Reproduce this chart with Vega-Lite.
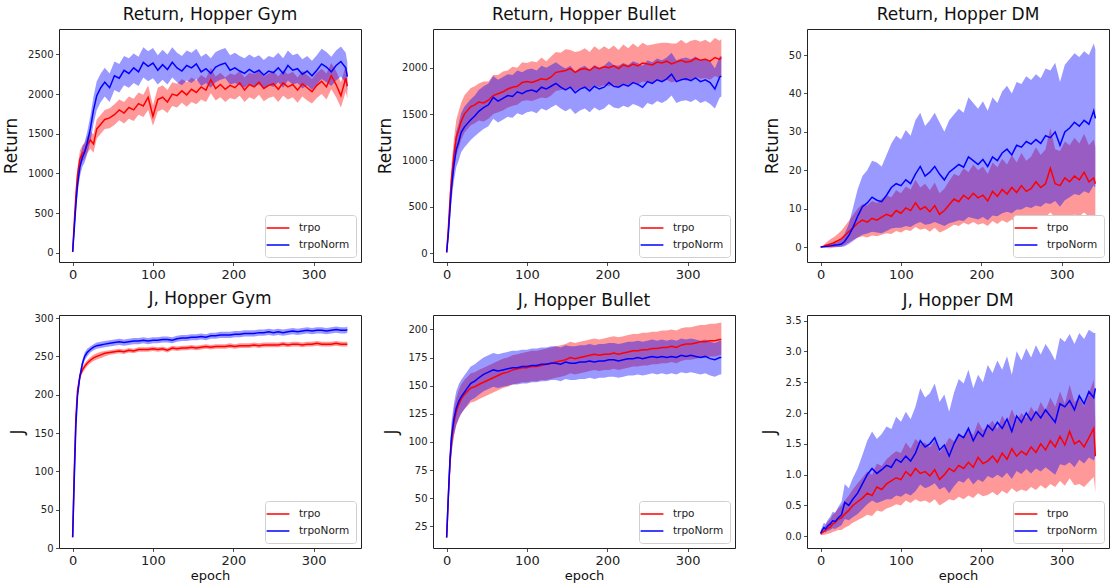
{
"$schema": "https://vega.github.io/schema/vega-lite/v6.json",
"padding": {"left": 2, "top": 5, "right": 0, "bottom": 5},
"config": {
 "font": "DejaVu Sans",
 "view": {"stroke": "#222", "strokeWidth": 1},
 "axis": {"domain": false, "grid": false, "tickColor": "#222", "tickSize": 3.5, "tickWidth": 0.8, "labelColor": "#222", "titleColor": "#111", "titleFontWeight": "normal", "labelFont": "DejaVu Sans", "titleFont": "DejaVu Sans", "labelOverlap": false, "labelFlush": false},
 "axisY": {"labelFontSize": 10, "titleFontSize": 17, "labelPadding": 2.5, "titlePadding": 7},
 "axisX": {"labelFontSize": 13, "titleFontSize": 13, "labelPadding": 3, "titlePadding": 2},
 "title": {"fontSize": 17, "fontWeight": "normal", "font": "DejaVu Sans", "color": "#111", "offset": 5, "frame": "group"},
 "legend": {"orient": "bottom-right", "title": null, "offset": 5, "padding": 6, "labelFontSize": 10.5, "labelFont": "DejaVu Sans", "labelColor": "#222", "strokeColor": "#d0d0d0", "fillColor": "#ffffff", "cornerRadius": 3, "symbolType": "M-1.9,0H1.9", "symbolSize": 144, "symbolStrokeWidth": 1.5, "symbolFillColor": "transparent", "labelOffset": 14, "rowPadding": 4}
},
"columns": 3,
"spacing": {"row": 53, "column": 72},
"bounds": "flush",
"resolve": {"scale": {"color": "independent"}, "legend": {"color": "independent"}},
"datasets": {
"rg": [
{"s":"trpo","e":0,"m":10,"l":0,"h":30},{"s":"trpo","e":2,"m":380,"l":320,"h":440},{"s":"trpo","e":4,"m":720,"l":640,"h":800},{"s":"trpo","e":6,"m":980,"l":890,"h":1070},{"s":"trpo","e":9,"m":1180,"l":1080,"h":1290},{"s":"trpo","e":12,"m":1250,"l":1150,"h":1350},{"s":"trpo","e":15,"m":1280,"l":1180,"h":1380},{"s":"trpo","e":18,"m":1360,"l":1250,"h":1460},{"s":"trpo","e":22,"m":1420,"l":1310,"h":1530},{"s":"trpo","e":26,"m":1370,"l":1260,"h":1490},{"s":"trpo","e":30,"m":1560,"l":1440,"h":1680},{"s":"trpo","e":35,"m":1620,"l":1500,"h":1740},{"s":"trpo","e":40,"m":1680,"l":1560,"h":1800},{"s":"trpo","e":46,"m":1700,"l":1570,"h":1820},{"s":"trpo","e":52,"m":1740,"l":1610,"h":1870},{"s":"trpo","e":58,"m":1800,"l":1670,"h":1930},{"s":"trpo","e":64,"m":1760,"l":1630,"h":1900},{"s":"trpo","e":70,"m":1830,"l":1690,"h":1970},{"s":"trpo","e":76,"m":1800,"l":1660,"h":1940},{"s":"trpo","e":82,"m":1880,"l":1740,"h":2020},{"s":"trpo","e":88,"m":1850,"l":1710,"h":1990},{"s":"trpo","e":94,"m":1960,"l":1800,"h":2110},{"s":"trpo","e":100,"m":1720,"l":1600,"h":1860},{"s":"trpo","e":106,"m":1930,"l":1780,"h":2080},{"s":"trpo","e":112,"m":1960,"l":1810,"h":2110},{"s":"trpo","e":118,"m":1900,"l":1760,"h":2050},{"s":"trpo","e":124,"m":2000,"l":1850,"h":2150},{"s":"trpo","e":130,"m":1980,"l":1830,"h":2130},{"s":"trpo","e":136,"m":2040,"l":1890,"h":2190},{"s":"trpo","e":142,"m":1990,"l":1840,"h":2150},{"s":"trpo","e":148,"m":2060,"l":1900,"h":2210},{"s":"trpo","e":154,"m":2020,"l":1870,"h":2170},{"s":"trpo","e":160,"m":2090,"l":1930,"h":2240},{"s":"trpo","e":166,"m":2050,"l":1900,"h":2200},{"s":"trpo","e":172,"m":2180,"l":2010,"h":2330},{"s":"trpo","e":178,"m":2070,"l":1920,"h":2220},{"s":"trpo","e":184,"m":2120,"l":1960,"h":2270},{"s":"trpo","e":190,"m":2060,"l":1900,"h":2210},{"s":"trpo","e":196,"m":2110,"l":1950,"h":2260},{"s":"trpo","e":202,"m":2080,"l":1930,"h":2240},{"s":"trpo","e":208,"m":2140,"l":1980,"h":2290},{"s":"trpo","e":214,"m":2050,"l":1900,"h":2210},{"s":"trpo","e":220,"m":2120,"l":1960,"h":2270},{"s":"trpo","e":226,"m":2090,"l":1930,"h":2250},{"s":"trpo","e":232,"m":2150,"l":1990,"h":2300},{"s":"trpo","e":238,"m":2070,"l":1910,"h":2220},{"s":"trpo","e":244,"m":2110,"l":1950,"h":2260},{"s":"trpo","e":250,"m":2130,"l":1970,"h":2290},{"s":"trpo","e":256,"m":2060,"l":1900,"h":2220},{"s":"trpo","e":262,"m":2140,"l":1980,"h":2300},{"s":"trpo","e":268,"m":2090,"l":1930,"h":2250},{"s":"trpo","e":274,"m":2120,"l":1960,"h":2280},{"s":"trpo","e":280,"m":2050,"l":1890,"h":2210},{"s":"trpo","e":286,"m":2130,"l":1970,"h":2290},{"s":"trpo","e":292,"m":2080,"l":1920,"h":2240},{"s":"trpo","e":298,"m":2030,"l":1880,"h":2190},{"s":"trpo","e":304,"m":2110,"l":1950,"h":2270},{"s":"trpo","e":310,"m":2160,"l":2000,"h":2320},{"s":"trpo","e":316,"m":2090,"l":1930,"h":2260},{"s":"trpo","e":322,"m":2230,"l":2060,"h":2390},{"s":"trpo","e":328,"m":2120,"l":1960,"h":2290},{"s":"trpo","e":334,"m":1980,"l":1830,"h":2150},{"s":"trpo","e":340,"m":2200,"l":2030,"h":2360},{"s":"trpo","e":342,"m":2100,"l":1940,"h":2260},
{"s":"trpoNorm","e":0,"m":10,"l":0,"h":30},{"s":"trpoNorm","e":2,"m":300,"l":230,"h":370},{"s":"trpoNorm","e":4,"m":600,"l":500,"h":700},{"s":"trpoNorm","e":6,"m":850,"l":740,"h":960},{"s":"trpoNorm","e":9,"m":1080,"l":960,"h":1200},{"s":"trpoNorm","e":12,"m":1200,"l":1080,"h":1330},{"s":"trpoNorm","e":15,"m":1270,"l":1140,"h":1400},{"s":"trpoNorm","e":18,"m":1380,"l":1240,"h":1520},{"s":"trpoNorm","e":22,"m":1560,"l":1400,"h":1720},{"s":"trpoNorm","e":26,"m":1800,"l":1620,"h":1970},{"s":"trpoNorm","e":30,"m":1980,"l":1800,"h":2160},{"s":"trpoNorm","e":35,"m":2080,"l":1900,"h":2260},{"s":"trpoNorm","e":40,"m":2150,"l":1970,"h":2330},{"s":"trpoNorm","e":46,"m":2080,"l":1900,"h":2260},{"s":"trpoNorm","e":52,"m":2230,"l":2050,"h":2410},{"s":"trpoNorm","e":58,"m":2200,"l":2020,"h":2380},{"s":"trpoNorm","e":64,"m":2300,"l":2110,"h":2480},{"s":"trpoNorm","e":70,"m":2260,"l":2080,"h":2450},{"s":"trpoNorm","e":76,"m":2330,"l":2140,"h":2510},{"s":"trpoNorm","e":82,"m":2280,"l":2100,"h":2470},{"s":"trpoNorm","e":88,"m":2400,"l":2210,"h":2590},{"s":"trpoNorm","e":94,"m":2350,"l":2160,"h":2540},{"s":"trpoNorm","e":100,"m":2390,"l":2200,"h":2580},{"s":"trpoNorm","e":106,"m":2300,"l":2120,"h":2490},{"s":"trpoNorm","e":112,"m":2370,"l":2180,"h":2560},{"s":"trpoNorm","e":118,"m":2310,"l":2120,"h":2500},{"s":"trpoNorm","e":124,"m":2400,"l":2210,"h":2590},{"s":"trpoNorm","e":130,"m":2330,"l":2150,"h":2520},{"s":"trpoNorm","e":136,"m":2290,"l":2110,"h":2480},{"s":"trpoNorm","e":142,"m":2360,"l":2170,"h":2550},{"s":"trpoNorm","e":148,"m":2330,"l":2140,"h":2520},{"s":"trpoNorm","e":154,"m":2380,"l":2190,"h":2570},{"s":"trpoNorm","e":160,"m":2280,"l":2100,"h":2470},{"s":"trpoNorm","e":166,"m":2320,"l":2140,"h":2510},{"s":"trpoNorm","e":172,"m":2260,"l":2080,"h":2450},{"s":"trpoNorm","e":178,"m":2340,"l":2150,"h":2530},{"s":"trpoNorm","e":184,"m":2370,"l":2180,"h":2560},{"s":"trpoNorm","e":190,"m":2390,"l":2200,"h":2580},{"s":"trpoNorm","e":196,"m":2300,"l":2120,"h":2490},{"s":"trpoNorm","e":202,"m":2330,"l":2140,"h":2520},{"s":"trpoNorm","e":208,"m":2290,"l":2110,"h":2480},{"s":"trpoNorm","e":214,"m":2260,"l":2080,"h":2450},{"s":"trpoNorm","e":220,"m":2310,"l":2130,"h":2500},{"s":"trpoNorm","e":226,"m":2270,"l":2090,"h":2460},{"s":"trpoNorm","e":232,"m":2300,"l":2120,"h":2490},{"s":"trpoNorm","e":238,"m":2240,"l":2060,"h":2430},{"s":"trpoNorm","e":244,"m":2290,"l":2110,"h":2480},{"s":"trpoNorm","e":250,"m":2270,"l":2090,"h":2460},{"s":"trpoNorm","e":256,"m":2330,"l":2150,"h":2520},{"s":"trpoNorm","e":262,"m":2260,"l":2080,"h":2450},{"s":"trpoNorm","e":268,"m":2360,"l":2170,"h":2550},{"s":"trpoNorm","e":274,"m":2300,"l":2120,"h":2490},{"s":"trpoNorm","e":280,"m":2320,"l":2140,"h":2510},{"s":"trpoNorm","e":286,"m":2250,"l":2070,"h":2440},{"s":"trpoNorm","e":292,"m":2290,"l":2110,"h":2480},{"s":"trpoNorm","e":298,"m":2230,"l":2050,"h":2420},{"s":"trpoNorm","e":304,"m":2300,"l":2120,"h":2490},{"s":"trpoNorm","e":310,"m":2380,"l":2190,"h":2570},{"s":"trpoNorm","e":316,"m":2340,"l":2150,"h":2530},{"s":"trpoNorm","e":322,"m":2280,"l":2100,"h":2470},{"s":"trpoNorm","e":328,"m":2360,"l":2170,"h":2550},{"s":"trpoNorm","e":334,"m":2410,"l":2220,"h":2600},{"s":"trpoNorm","e":340,"m":2330,"l":2140,"h":2520},{"s":"trpoNorm","e":342,"m":2220,"l":2040,"h":2400}
],
"rb": [
{"s":"trpo","e":0,"m":10,"l":0,"h":20},{"s":"trpo","e":2,"m":250,"l":170,"h":330},{"s":"trpo","e":4,"m":550,"l":420,"h":680},{"s":"trpo","e":6,"m":800,"l":640,"h":960},{"s":"trpo","e":9,"m":1050,"l":870,"h":1230},{"s":"trpo","e":12,"m":1250,"l":1060,"h":1440},{"s":"trpo","e":15,"m":1330,"l":1130,"h":1530},{"s":"trpo","e":18,"m":1420,"l":1220,"h":1620},{"s":"trpo","e":22,"m":1500,"l":1300,"h":1700},{"s":"trpo","e":26,"m":1540,"l":1340,"h":1740},{"s":"trpo","e":30,"m":1580,"l":1380,"h":1780},{"s":"trpo","e":35,"m":1600,"l":1400,"h":1800},{"s":"trpo","e":40,"m":1630,"l":1430,"h":1830},{"s":"trpo","e":46,"m":1620,"l":1420,"h":1850},{"s":"trpo","e":52,"m":1650,"l":1450,"h":1850},{"s":"trpo","e":58,"m":1700,"l":1500,"h":1920},{"s":"trpo","e":64,"m":1720,"l":1520,"h":1920},{"s":"trpo","e":70,"m":1740,"l":1540,"h":1960},{"s":"trpo","e":76,"m":1770,"l":1570,"h":1970},{"s":"trpo","e":82,"m":1790,"l":1590,"h":2010},{"s":"trpo","e":88,"m":1800,"l":1600,"h":2000},{"s":"trpo","e":94,"m":1840,"l":1640,"h":2060},{"s":"trpo","e":100,"m":1850,"l":1650,"h":2050},{"s":"trpo","e":106,"m":1840,"l":1640,"h":2070},{"s":"trpo","e":112,"m":1860,"l":1660,"h":2060},{"s":"trpo","e":118,"m":1880,"l":1680,"h":2110},{"s":"trpo","e":124,"m":1870,"l":1670,"h":2070},{"s":"trpo","e":130,"m":1900,"l":1700,"h":2120},{"s":"trpo","e":136,"m":1950,"l":1750,"h":2170},{"s":"trpo","e":142,"m":1960,"l":1760,"h":2160},{"s":"trpo","e":148,"m":1970,"l":1770,"h":2200},{"s":"trpo","e":154,"m":1990,"l":1790,"h":2190},{"s":"trpo","e":160,"m":1950,"l":1750,"h":2170},{"s":"trpo","e":166,"m":1980,"l":1780,"h":2180},{"s":"trpo","e":172,"m":1990,"l":1790,"h":2210},{"s":"trpo","e":178,"m":1970,"l":1770,"h":2170},{"s":"trpo","e":184,"m":2010,"l":1810,"h":2230},{"s":"trpo","e":190,"m":1990,"l":1790,"h":2190},{"s":"trpo","e":196,"m":2010,"l":1810,"h":2230},{"s":"trpo","e":202,"m":2000,"l":1800,"h":2200},{"s":"trpo","e":208,"m":2020,"l":1820,"h":2240},{"s":"trpo","e":214,"m":1990,"l":1790,"h":2190},{"s":"trpo","e":220,"m":2030,"l":1830,"h":2250},{"s":"trpo","e":226,"m":2010,"l":1810,"h":2210},{"s":"trpo","e":232,"m":2040,"l":1840,"h":2260},{"s":"trpo","e":238,"m":2020,"l":1820,"h":2220},{"s":"trpo","e":244,"m":2050,"l":1850,"h":2270},{"s":"trpo","e":250,"m":2040,"l":1840,"h":2240},{"s":"trpo","e":256,"m":2030,"l":1830,"h":2250},{"s":"trpo","e":262,"m":2060,"l":1860,"h":2260},{"s":"trpo","e":268,"m":2050,"l":1850,"h":2270},{"s":"trpo","e":274,"m":2070,"l":1870,"h":2270},{"s":"trpo","e":280,"m":2040,"l":1840,"h":2260},{"s":"trpo","e":286,"m":2060,"l":1860,"h":2260},{"s":"trpo","e":292,"m":2080,"l":1880,"h":2300},{"s":"trpo","e":298,"m":2060,"l":1860,"h":2260},{"s":"trpo","e":304,"m":2070,"l":1870,"h":2290},{"s":"trpo","e":310,"m":2100,"l":1900,"h":2300},{"s":"trpo","e":316,"m":2080,"l":1880,"h":2280},{"s":"trpo","e":322,"m":2090,"l":1890,"h":2300},{"s":"trpo","e":328,"m":2070,"l":1870,"h":2270},{"s":"trpo","e":334,"m":2110,"l":1910,"h":2320},{"s":"trpo","e":340,"m":2090,"l":1890,"h":2290},{"s":"trpo","e":342,"m":2110,"l":1910,"h":2310},
{"s":"trpoNorm","e":0,"m":10,"l":0,"h":20},{"s":"trpoNorm","e":2,"m":200,"l":140,"h":260},{"s":"trpoNorm","e":4,"m":450,"l":340,"h":560},{"s":"trpoNorm","e":6,"m":700,"l":560,"h":840},{"s":"trpoNorm","e":9,"m":950,"l":780,"h":1120},{"s":"trpoNorm","e":12,"m":1120,"l":930,"h":1310},{"s":"trpoNorm","e":15,"m":1200,"l":1000,"h":1400},{"s":"trpoNorm","e":18,"m":1300,"l":1090,"h":1510},{"s":"trpoNorm","e":22,"m":1360,"l":1140,"h":1580},{"s":"trpoNorm","e":26,"m":1400,"l":1180,"h":1620},{"s":"trpoNorm","e":30,"m":1440,"l":1220,"h":1660},{"s":"trpoNorm","e":35,"m":1480,"l":1260,"h":1700},{"s":"trpoNorm","e":40,"m":1530,"l":1300,"h":1760},{"s":"trpoNorm","e":46,"m":1570,"l":1340,"h":1800},{"s":"trpoNorm","e":52,"m":1600,"l":1370,"h":1830},{"s":"trpoNorm","e":58,"m":1680,"l":1450,"h":1910},{"s":"trpoNorm","e":64,"m":1640,"l":1410,"h":1870},{"s":"trpoNorm","e":70,"m":1670,"l":1440,"h":1900},{"s":"trpoNorm","e":76,"m":1700,"l":1470,"h":1930},{"s":"trpoNorm","e":82,"m":1690,"l":1460,"h":1920},{"s":"trpoNorm","e":88,"m":1740,"l":1510,"h":1970},{"s":"trpoNorm","e":94,"m":1720,"l":1490,"h":1950},{"s":"trpoNorm","e":100,"m":1750,"l":1520,"h":1980},{"s":"trpoNorm","e":106,"m":1760,"l":1530,"h":1990},{"s":"trpoNorm","e":112,"m":1740,"l":1510,"h":1970},{"s":"trpoNorm","e":118,"m":1790,"l":1560,"h":2020},{"s":"trpoNorm","e":124,"m":1770,"l":1540,"h":2000},{"s":"trpoNorm","e":130,"m":1800,"l":1570,"h":2030},{"s":"trpoNorm","e":136,"m":1830,"l":1600,"h":2060},{"s":"trpoNorm","e":142,"m":1790,"l":1560,"h":2020},{"s":"trpoNorm","e":148,"m":1760,"l":1530,"h":1990},{"s":"trpoNorm","e":154,"m":1790,"l":1560,"h":2020},{"s":"trpoNorm","e":160,"m":1730,"l":1500,"h":1960},{"s":"trpoNorm","e":166,"m":1770,"l":1540,"h":2000},{"s":"trpoNorm","e":172,"m":1790,"l":1560,"h":2020},{"s":"trpoNorm","e":178,"m":1750,"l":1520,"h":1980},{"s":"trpoNorm","e":184,"m":1800,"l":1570,"h":2030},{"s":"trpoNorm","e":190,"m":1770,"l":1540,"h":2000},{"s":"trpoNorm","e":196,"m":1790,"l":1560,"h":2020},{"s":"trpoNorm","e":202,"m":1840,"l":1610,"h":2070},{"s":"trpoNorm","e":208,"m":1800,"l":1570,"h":2030},{"s":"trpoNorm","e":214,"m":1790,"l":1560,"h":2020},{"s":"trpoNorm","e":220,"m":1820,"l":1590,"h":2050},{"s":"trpoNorm","e":226,"m":1800,"l":1570,"h":2030},{"s":"trpoNorm","e":232,"m":1840,"l":1610,"h":2070},{"s":"trpoNorm","e":238,"m":1820,"l":1590,"h":2050},{"s":"trpoNorm","e":244,"m":1790,"l":1560,"h":2020},{"s":"trpoNorm","e":250,"m":1850,"l":1620,"h":2080},{"s":"trpoNorm","e":256,"m":1830,"l":1600,"h":2060},{"s":"trpoNorm","e":262,"m":1870,"l":1640,"h":2100},{"s":"trpoNorm","e":268,"m":1850,"l":1620,"h":2080},{"s":"trpoNorm","e":274,"m":1880,"l":1650,"h":2110},{"s":"trpoNorm","e":280,"m":1930,"l":1700,"h":2160},{"s":"trpoNorm","e":286,"m":1850,"l":1620,"h":2080},{"s":"trpoNorm","e":292,"m":1870,"l":1640,"h":2100},{"s":"trpoNorm","e":298,"m":1880,"l":1650,"h":2110},{"s":"trpoNorm","e":304,"m":1860,"l":1630,"h":2090},{"s":"trpoNorm","e":310,"m":1890,"l":1660,"h":2120},{"s":"trpoNorm","e":316,"m":1850,"l":1620,"h":2080},{"s":"trpoNorm","e":322,"m":1870,"l":1640,"h":2100},{"s":"trpoNorm","e":328,"m":1840,"l":1610,"h":2070},{"s":"trpoNorm","e":334,"m":1770,"l":1560,"h":1990},{"s":"trpoNorm","e":340,"m":1900,"l":1680,"h":2120},{"s":"trpoNorm","e":342,"m":1910,"l":1690,"h":2130}
],
"rd": [
{"s":"trpo","e":0,"m":0,"l":0,"h":0},{"s":"trpo","e":2,"m":0.1,"l":0,"h":0.3},{"s":"trpo","e":4,"m":0.2,"l":-0.1,"h":0.6},{"s":"trpo","e":6,"m":0.4,"l":-0.2,"h":1.0},{"s":"trpo","e":9,"m":0.6,"l":-0.3,"h":1.5},{"s":"trpo","e":12,"m":0.8,"l":-0.3,"h":2.0},{"s":"trpo","e":15,"m":1.0,"l":-0.2,"h":2.4},{"s":"trpo","e":18,"m":1.3,"l":-0.1,"h":2.8},{"s":"trpo","e":22,"m":1.7,"l":0,"h":3.5},{"s":"trpo","e":26,"m":2.2,"l":0.2,"h":4.3},{"s":"trpo","e":30,"m":3.0,"l":0.5,"h":5.4},{"s":"trpo","e":35,"m":4.0,"l":1.2,"h":6.8},{"s":"trpo","e":40,"m":5.0,"l":1.8,"h":8.2},{"s":"trpo","e":46,"m":6.2,"l":2.4,"h":10.0},{"s":"trpo","e":52,"m":7.0,"l":2.8,"h":11.2},{"s":"trpo","e":58,"m":6.5,"l":2.5,"h":10.8},{"s":"trpo","e":64,"m":7.5,"l":3.0,"h":12.0},{"s":"trpo","e":70,"m":7.0,"l":2.8,"h":11.5},{"s":"trpo","e":76,"m":7.8,"l":3.2,"h":12.5},{"s":"trpo","e":82,"m":8.5,"l":3.6,"h":13.4},{"s":"trpo","e":88,"m":8.0,"l":3.4,"h":13.0},{"s":"trpo","e":94,"m":9.5,"l":4.2,"h":14.8},{"s":"trpo","e":100,"m":8.8,"l":3.8,"h":14.0},{"s":"trpo","e":106,"m":10.2,"l":4.5,"h":15.8},{"s":"trpo","e":112,"m":9.5,"l":4.2,"h":15.0},{"s":"trpo","e":118,"m":11.5,"l":5.2,"h":17.5},{"s":"trpo","e":124,"m":9.8,"l":4.5,"h":15.5},{"s":"trpo","e":130,"m":10.5,"l":4.8,"h":16.5},{"s":"trpo","e":136,"m":9.2,"l":4.0,"h":14.8},{"s":"trpo","e":142,"m":10.8,"l":5.0,"h":16.8},{"s":"trpo","e":148,"m":8.5,"l":3.8,"h":14.0},{"s":"trpo","e":154,"m":9.5,"l":4.3,"h":15.2},{"s":"trpo","e":160,"m":11.0,"l":5.0,"h":17.2},{"s":"trpo","e":166,"m":12.5,"l":5.8,"h":19.0},{"s":"trpo","e":172,"m":11.8,"l":5.5,"h":18.5},{"s":"trpo","e":178,"m":13.5,"l":6.3,"h":20.5},{"s":"trpo","e":184,"m":12.5,"l":5.8,"h":19.5},{"s":"trpo","e":190,"m":14.0,"l":6.5,"h":21.5},{"s":"trpo","e":196,"m":12.8,"l":5.8,"h":20.0},{"s":"trpo","e":202,"m":13.5,"l":6.2,"h":21.0},{"s":"trpo","e":208,"m":12.0,"l":5.5,"h":19.0},{"s":"trpo","e":214,"m":14.5,"l":6.8,"h":22.0},{"s":"trpo","e":220,"m":13.2,"l":6.0,"h":20.8},{"s":"trpo","e":226,"m":15.0,"l":7.0,"h":23.0},{"s":"trpo","e":232,"m":13.8,"l":6.3,"h":21.5},{"s":"trpo","e":238,"m":15.5,"l":7.2,"h":24.0},{"s":"trpo","e":244,"m":14.2,"l":6.5,"h":22.0},{"s":"trpo","e":250,"m":16.0,"l":7.5,"h":24.5},{"s":"trpo","e":256,"m":14.5,"l":6.8,"h":22.5},{"s":"trpo","e":262,"m":15.2,"l":7.2,"h":23.5},{"s":"trpo","e":268,"m":17.0,"l":8.0,"h":26.0},{"s":"trpo","e":274,"m":15.5,"l":7.2,"h":24.0},{"s":"trpo","e":280,"m":16.5,"l":7.8,"h":25.5},{"s":"trpo","e":286,"m":20.5,"l":9.0,"h":31.0},{"s":"trpo","e":292,"m":16.5,"l":7.6,"h":25.5},{"s":"trpo","e":298,"m":16.0,"l":7.5,"h":25.0},{"s":"trpo","e":304,"m":18.0,"l":8.3,"h":27.5},{"s":"trpo","e":310,"m":17.0,"l":7.8,"h":26.5},{"s":"trpo","e":316,"m":18.5,"l":8.5,"h":28.5},{"s":"trpo","e":322,"m":17.5,"l":8.0,"h":27.0},{"s":"trpo","e":328,"m":19.5,"l":9.0,"h":29.5},{"s":"trpo","e":334,"m":17.0,"l":7.8,"h":26.5},{"s":"trpo","e":340,"m":18.0,"l":8.3,"h":28.0},{"s":"trpo","e":342,"m":16.5,"l":7.5,"h":26.0},
{"s":"trpoNorm","e":0,"m":0,"l":0,"h":0},{"s":"trpoNorm","e":2,"m":0.05,"l":0,"h":0.1},{"s":"trpoNorm","e":4,"m":0.1,"l":0,"h":0.2},{"s":"trpoNorm","e":6,"m":0.15,"l":0,"h":0.3},{"s":"trpoNorm","e":9,"m":0.2,"l":0,"h":0.5},{"s":"trpoNorm","e":12,"m":0.3,"l":0,"h":0.7},{"s":"trpoNorm","e":15,"m":0.4,"l":0,"h":0.9},{"s":"trpoNorm","e":18,"m":0.5,"l":0,"h":1.1},{"s":"trpoNorm","e":22,"m":0.6,"l":0,"h":1.4},{"s":"trpoNorm","e":26,"m":0.8,"l":0,"h":2.0},{"s":"trpoNorm","e":30,"m":1.5,"l":0.2,"h":3.5},{"s":"trpoNorm","e":35,"m":3.0,"l":0.8,"h":6.0},{"s":"trpoNorm","e":40,"m":5.0,"l":1.5,"h":10.0},{"s":"trpoNorm","e":46,"m":8.0,"l":2.5,"h":15.0},{"s":"trpoNorm","e":52,"m":10.5,"l":3.2,"h":18.5},{"s":"trpoNorm","e":58,"m":11.5,"l":3.5,"h":20.0},{"s":"trpoNorm","e":64,"m":13.0,"l":4.0,"h":22.5},{"s":"trpoNorm","e":70,"m":12.2,"l":3.8,"h":22.0},{"s":"trpoNorm","e":76,"m":11.8,"l":3.6,"h":21.0},{"s":"trpoNorm","e":82,"m":13.5,"l":4.2,"h":24.0},{"s":"trpoNorm","e":88,"m":15.5,"l":4.8,"h":27.0},{"s":"trpoNorm","e":94,"m":16.5,"l":5.0,"h":29.0},{"s":"trpoNorm","e":100,"m":16.0,"l":5.0,"h":28.0},{"s":"trpoNorm","e":106,"m":17.5,"l":5.5,"h":30.5},{"s":"trpoNorm","e":112,"m":16.5,"l":5.2,"h":29.0},{"s":"trpoNorm","e":118,"m":19.0,"l":6.0,"h":33.0},{"s":"trpoNorm","e":124,"m":21.0,"l":6.5,"h":35.0},{"s":"trpoNorm","e":130,"m":18.5,"l":5.8,"h":31.5},{"s":"trpoNorm","e":136,"m":19.5,"l":6.0,"h":33.0},{"s":"trpoNorm","e":142,"m":21.0,"l":6.5,"h":35.0},{"s":"trpoNorm","e":148,"m":19.0,"l":6.0,"h":32.5},{"s":"trpoNorm","e":154,"m":17.5,"l":5.5,"h":30.0},{"s":"trpoNorm","e":160,"m":19.5,"l":6.2,"h":33.0},{"s":"trpoNorm","e":166,"m":20.5,"l":6.5,"h":34.5},{"s":"trpoNorm","e":172,"m":21.5,"l":7.0,"h":36.0},{"s":"trpoNorm","e":178,"m":20.8,"l":6.8,"h":35.0},{"s":"trpoNorm","e":184,"m":23.5,"l":7.8,"h":39.0},{"s":"trpoNorm","e":190,"m":22.5,"l":7.5,"h":37.5},{"s":"trpoNorm","e":196,"m":21.5,"l":7.2,"h":36.0},{"s":"trpoNorm","e":202,"m":22.8,"l":7.8,"h":38.0},{"s":"trpoNorm","e":208,"m":21.0,"l":7.0,"h":35.5},{"s":"trpoNorm","e":214,"m":23.5,"l":8.2,"h":39.0},{"s":"trpoNorm","e":220,"m":22.5,"l":8.0,"h":37.5},{"s":"trpoNorm","e":226,"m":24.5,"l":8.8,"h":40.5},{"s":"trpoNorm","e":232,"m":25.5,"l":9.2,"h":42.0},{"s":"trpoNorm","e":238,"m":24.0,"l":8.8,"h":40.0},{"s":"trpoNorm","e":244,"m":26.5,"l":9.8,"h":43.0},{"s":"trpoNorm","e":250,"m":26.0,"l":9.8,"h":42.5},{"s":"trpoNorm","e":256,"m":27.5,"l":10.5,"h":44.5},{"s":"trpoNorm","e":262,"m":26.8,"l":10.2,"h":43.5},{"s":"trpoNorm","e":268,"m":28.0,"l":10.8,"h":45.0},{"s":"trpoNorm","e":274,"m":27.0,"l":10.5,"h":44.0},{"s":"trpoNorm","e":280,"m":29.0,"l":11.5,"h":46.5},{"s":"trpoNorm","e":286,"m":28.5,"l":11.2,"h":46.0},{"s":"trpoNorm","e":292,"m":30.0,"l":12.0,"h":48.0},{"s":"trpoNorm","e":298,"m":26.5,"l":10.5,"h":43.0},{"s":"trpoNorm","e":304,"m":30.0,"l":12.2,"h":47.5},{"s":"trpoNorm","e":310,"m":31.0,"l":13.0,"h":49.0},{"s":"trpoNorm","e":316,"m":32.5,"l":13.8,"h":50.5},{"s":"trpoNorm","e":322,"m":31.5,"l":13.5,"h":49.5},{"s":"trpoNorm","e":328,"m":33.0,"l":14.5,"h":51.0},{"s":"trpoNorm","e":334,"m":32.0,"l":14.0,"h":50.0},{"s":"trpoNorm","e":340,"m":35.5,"l":16.0,"h":53.0},{"s":"trpoNorm","e":342,"m":33.5,"l":15.5,"h":51.5}
],
"jg": [
{"s":"trpo","e":0,"m":14,"l":13,"h":15},{"s":"trpo","e":2,"m":100,"l":96,"h":104},{"s":"trpo","e":4,"m":170,"l":166,"h":174},{"s":"trpo","e":6,"m":205,"l":201,"h":209},{"s":"trpo","e":9,"m":224,"l":220,"h":228},{"s":"trpo","e":12,"m":232,"l":228,"h":236},{"s":"trpo","e":15,"m":237,"l":233,"h":241},{"s":"trpo","e":18,"m":241,"l":237,"h":245},{"s":"trpo","e":22,"m":245,"l":241,"h":249},{"s":"trpo","e":26,"m":248,"l":244,"h":252},{"s":"trpo","e":30,"m":250,"l":246,"h":254},{"s":"trpo","e":35,"m":252,"l":248,"h":256},{"s":"trpo","e":40,"m":254,"l":250,"h":257},{"s":"trpo","e":46,"m":255,"l":252,"h":258},{"s":"trpo","e":52,"m":256,"l":253,"h":259},{"s":"trpo","e":58,"m":257,"l":254,"h":260},{"s":"trpo","e":64,"m":256,"l":253,"h":259},{"s":"trpo","e":70,"m":258,"l":255,"h":261},{"s":"trpo","e":76,"m":257,"l":254,"h":260},{"s":"trpo","e":82,"m":259,"l":256,"h":262},{"s":"trpo","e":88,"m":259,"l":256,"h":262},{"s":"trpo","e":94,"m":259,"l":256,"h":262},{"s":"trpo","e":100,"m":260,"l":257,"h":263},{"s":"trpo","e":106,"m":259,"l":256,"h":262},{"s":"trpo","e":112,"m":260,"l":257,"h":263},{"s":"trpo","e":118,"m":258,"l":255,"h":261},{"s":"trpo","e":124,"m":261,"l":258,"h":264},{"s":"trpo","e":130,"m":260,"l":257,"h":263},{"s":"trpo","e":136,"m":261,"l":258,"h":264},{"s":"trpo","e":142,"m":261,"l":258,"h":264},{"s":"trpo","e":148,"m":262,"l":259,"h":265},{"s":"trpo","e":154,"m":261,"l":258,"h":264},{"s":"trpo","e":160,"m":262,"l":259,"h":265},{"s":"trpo","e":166,"m":263,"l":260,"h":266},{"s":"trpo","e":172,"m":262,"l":259,"h":265},{"s":"trpo","e":178,"m":263,"l":260,"h":266},{"s":"trpo","e":184,"m":263,"l":260,"h":266},{"s":"trpo","e":190,"m":263,"l":260,"h":266},{"s":"trpo","e":196,"m":264,"l":261,"h":267},{"s":"trpo","e":202,"m":263,"l":260,"h":266},{"s":"trpo","e":208,"m":264,"l":261,"h":267},{"s":"trpo","e":214,"m":264,"l":261,"h":267},{"s":"trpo","e":220,"m":264,"l":261,"h":267},{"s":"trpo","e":226,"m":265,"l":262,"h":268},{"s":"trpo","e":232,"m":264,"l":261,"h":267},{"s":"trpo","e":238,"m":265,"l":262,"h":268},{"s":"trpo","e":244,"m":265,"l":262,"h":268},{"s":"trpo","e":250,"m":265,"l":262,"h":268},{"s":"trpo","e":256,"m":265,"l":262,"h":268},{"s":"trpo","e":262,"m":266,"l":263,"h":269},{"s":"trpo","e":268,"m":265,"l":262,"h":268},{"s":"trpo","e":274,"m":266,"l":263,"h":269},{"s":"trpo","e":280,"m":266,"l":263,"h":269},{"s":"trpo","e":286,"m":265,"l":262,"h":268},{"s":"trpo","e":292,"m":266,"l":263,"h":269},{"s":"trpo","e":298,"m":266,"l":263,"h":269},{"s":"trpo","e":304,"m":267,"l":264,"h":270},{"s":"trpo","e":310,"m":266,"l":263,"h":269},{"s":"trpo","e":316,"m":266,"l":263,"h":269},{"s":"trpo","e":322,"m":266,"l":263,"h":269},{"s":"trpo","e":328,"m":267,"l":264,"h":270},{"s":"trpo","e":334,"m":266,"l":263,"h":269},{"s":"trpo","e":340,"m":266,"l":263,"h":269},{"s":"trpo","e":342,"m":266,"l":263,"h":269},
{"s":"trpoNorm","e":0,"m":14,"l":13,"h":15},{"s":"trpoNorm","e":2,"m":90,"l":86,"h":94},{"s":"trpoNorm","e":4,"m":160,"l":155,"h":165},{"s":"trpoNorm","e":6,"m":198,"l":193,"h":203},{"s":"trpoNorm","e":9,"m":224,"l":219,"h":229},{"s":"trpoNorm","e":12,"m":240,"l":235,"h":245},{"s":"trpoNorm","e":15,"m":250,"l":245,"h":255},{"s":"trpoNorm","e":18,"m":255,"l":250,"h":260},{"s":"trpoNorm","e":22,"m":259,"l":255,"h":263},{"s":"trpoNorm","e":26,"m":262,"l":258,"h":266},{"s":"trpoNorm","e":30,"m":264,"l":260,"h":268},{"s":"trpoNorm","e":35,"m":265,"l":261,"h":269},{"s":"trpoNorm","e":40,"m":266,"l":262,"h":270},{"s":"trpoNorm","e":46,"m":267,"l":263,"h":271},{"s":"trpoNorm","e":52,"m":268,"l":264,"h":272},{"s":"trpoNorm","e":58,"m":269,"l":265,"h":273},{"s":"trpoNorm","e":64,"m":268,"l":264,"h":272},{"s":"trpoNorm","e":70,"m":269,"l":265,"h":273},{"s":"trpoNorm","e":76,"m":270,"l":266,"h":274},{"s":"trpoNorm","e":82,"m":270,"l":266,"h":274},{"s":"trpoNorm","e":88,"m":271,"l":267,"h":275},{"s":"trpoNorm","e":94,"m":270,"l":266,"h":274},{"s":"trpoNorm","e":100,"m":271,"l":267,"h":275},{"s":"trpoNorm","e":106,"m":271,"l":267,"h":275},{"s":"trpoNorm","e":112,"m":272,"l":268,"h":276},{"s":"trpoNorm","e":118,"m":272,"l":268,"h":276},{"s":"trpoNorm","e":124,"m":271,"l":267,"h":275},{"s":"trpoNorm","e":130,"m":273,"l":269,"h":277},{"s":"trpoNorm","e":136,"m":274,"l":270,"h":278},{"s":"trpoNorm","e":142,"m":274,"l":270,"h":278},{"s":"trpoNorm","e":148,"m":275,"l":271,"h":279},{"s":"trpoNorm","e":154,"m":275,"l":271,"h":279},{"s":"trpoNorm","e":160,"m":276,"l":272,"h":280},{"s":"trpoNorm","e":166,"m":275,"l":271,"h":279},{"s":"trpoNorm","e":172,"m":277,"l":273,"h":281},{"s":"trpoNorm","e":178,"m":277,"l":273,"h":281},{"s":"trpoNorm","e":184,"m":278,"l":274,"h":282},{"s":"trpoNorm","e":190,"m":278,"l":274,"h":282},{"s":"trpoNorm","e":196,"m":278,"l":274,"h":282},{"s":"trpoNorm","e":202,"m":279,"l":275,"h":283},{"s":"trpoNorm","e":208,"m":279,"l":275,"h":283},{"s":"trpoNorm","e":214,"m":280,"l":276,"h":284},{"s":"trpoNorm","e":220,"m":280,"l":276,"h":284},{"s":"trpoNorm","e":226,"m":280,"l":276,"h":284},{"s":"trpoNorm","e":232,"m":281,"l":277,"h":285},{"s":"trpoNorm","e":238,"m":281,"l":277,"h":285},{"s":"trpoNorm","e":244,"m":282,"l":278,"h":286},{"s":"trpoNorm","e":250,"m":281,"l":277,"h":285},{"s":"trpoNorm","e":256,"m":282,"l":278,"h":286},{"s":"trpoNorm","e":262,"m":281,"l":277,"h":285},{"s":"trpoNorm","e":268,"m":282,"l":278,"h":286},{"s":"trpoNorm","e":274,"m":283,"l":279,"h":287},{"s":"trpoNorm","e":280,"m":282,"l":278,"h":286},{"s":"trpoNorm","e":286,"m":283,"l":279,"h":287},{"s":"trpoNorm","e":292,"m":284,"l":280,"h":288},{"s":"trpoNorm","e":298,"m":283,"l":279,"h":287},{"s":"trpoNorm","e":304,"m":284,"l":280,"h":288},{"s":"trpoNorm","e":310,"m":284,"l":280,"h":288},{"s":"trpoNorm","e":316,"m":283,"l":279,"h":287},{"s":"trpoNorm","e":322,"m":284,"l":280,"h":288},{"s":"trpoNorm","e":328,"m":285,"l":281,"h":289},{"s":"trpoNorm","e":334,"m":284,"l":280,"h":288},{"s":"trpoNorm","e":340,"m":284,"l":280,"h":288},{"s":"trpoNorm","e":342,"m":285,"l":281,"h":289}
],
"jb": [
{"s":"trpo","e":0,"m":15,"l":14,"h":16},{"s":"trpo","e":2,"m":50,"l":42,"h":58},{"s":"trpo","e":4,"m":80,"l":70,"h":90},{"s":"trpo","e":6,"m":100,"l":89,"h":111},{"s":"trpo","e":9,"m":117,"l":105,"h":129},{"s":"trpo","e":12,"m":127,"l":115,"h":139},{"s":"trpo","e":15,"m":133,"l":120,"h":146},{"s":"trpo","e":18,"m":138,"l":125,"h":151},{"s":"trpo","e":22,"m":142,"l":129,"h":155},{"s":"trpo","e":26,"m":145,"l":132,"h":158},{"s":"trpo","e":30,"m":148,"l":135,"h":161},{"s":"trpo","e":35,"m":149,"l":136,"h":162},{"s":"trpo","e":40,"m":151,"l":138,"h":164},{"s":"trpo","e":46,"m":153,"l":140,"h":166},{"s":"trpo","e":52,"m":155,"l":142,"h":168},{"s":"trpo","e":58,"m":157,"l":144,"h":170},{"s":"trpo","e":64,"m":159,"l":146,"h":172},{"s":"trpo","e":70,"m":161,"l":148,"h":174},{"s":"trpo","e":76,"m":162,"l":149,"h":175},{"s":"trpo","e":82,"m":164,"l":151,"h":177},{"s":"trpo","e":88,"m":165,"l":152,"h":178},{"s":"trpo","e":94,"m":166,"l":153,"h":179},{"s":"trpo","e":100,"m":166,"l":153,"h":180},{"s":"trpo","e":106,"m":167,"l":154,"h":181},{"s":"trpo","e":112,"m":167,"l":154,"h":181},{"s":"trpo","e":118,"m":168,"l":155,"h":182},{"s":"trpo","e":124,"m":169,"l":155,"h":183},{"s":"trpo","e":130,"m":170,"l":156,"h":184},{"s":"trpo","e":136,"m":171,"l":157,"h":185},{"s":"trpo","e":142,"m":172,"l":158,"h":186},{"s":"trpo","e":148,"m":173,"l":159,"h":187},{"s":"trpo","e":154,"m":175,"l":161,"h":189},{"s":"trpo","e":160,"m":174,"l":160,"h":188},{"s":"trpo","e":166,"m":175,"l":161,"h":189},{"s":"trpo","e":172,"m":176,"l":162,"h":190},{"s":"trpo","e":178,"m":177,"l":163,"h":191},{"s":"trpo","e":184,"m":178,"l":164,"h":192},{"s":"trpo","e":190,"m":177,"l":163,"h":191},{"s":"trpo","e":196,"m":178,"l":164,"h":192},{"s":"trpo","e":202,"m":178,"l":164,"h":193},{"s":"trpo","e":208,"m":179,"l":165,"h":194},{"s":"trpo","e":214,"m":178,"l":164,"h":193},{"s":"trpo","e":220,"m":179,"l":165,"h":194},{"s":"trpo","e":226,"m":180,"l":166,"h":195},{"s":"trpo","e":232,"m":181,"l":167,"h":196},{"s":"trpo","e":238,"m":181,"l":167,"h":196},{"s":"trpo","e":244,"m":182,"l":168,"h":197},{"s":"trpo","e":250,"m":182,"l":168,"h":197},{"s":"trpo","e":256,"m":183,"l":169,"h":198},{"s":"trpo","e":262,"m":183,"l":169,"h":198},{"s":"trpo","e":268,"m":184,"l":170,"h":199},{"s":"trpo","e":274,"m":184,"l":170,"h":199},{"s":"trpo","e":280,"m":185,"l":171,"h":200},{"s":"trpo","e":286,"m":184,"l":170,"h":199},{"s":"trpo","e":292,"m":186,"l":172,"h":201},{"s":"trpo","e":298,"m":187,"l":173,"h":202},{"s":"trpo","e":304,"m":187,"l":173,"h":202},{"s":"trpo","e":310,"m":188,"l":174,"h":203},{"s":"trpo","e":316,"m":189,"l":175,"h":204},{"s":"trpo","e":322,"m":189,"l":175,"h":204},{"s":"trpo","e":328,"m":190,"l":176,"h":205},{"s":"trpo","e":334,"m":190,"l":176,"h":205},{"s":"trpo","e":340,"m":191,"l":177,"h":206},{"s":"trpo","e":342,"m":191,"l":177,"h":206},
{"s":"trpoNorm","e":0,"m":15,"l":14,"h":16},{"s":"trpoNorm","e":2,"m":50,"l":40,"h":60},{"s":"trpoNorm","e":4,"m":82,"l":70,"h":94},{"s":"trpoNorm","e":6,"m":104,"l":91,"h":117},{"s":"trpoNorm","e":9,"m":120,"l":106,"h":134},{"s":"trpoNorm","e":12,"m":130,"l":115,"h":145},{"s":"trpoNorm","e":15,"m":136,"l":121,"h":151},{"s":"trpoNorm","e":18,"m":140,"l":125,"h":155},{"s":"trpoNorm","e":22,"m":144,"l":129,"h":159},{"s":"trpoNorm","e":26,"m":148,"l":133,"h":163},{"s":"trpoNorm","e":30,"m":152,"l":137,"h":167},{"s":"trpoNorm","e":35,"m":154,"l":139,"h":169},{"s":"trpoNorm","e":40,"m":157,"l":142,"h":172},{"s":"trpoNorm","e":46,"m":160,"l":145,"h":175},{"s":"trpoNorm","e":52,"m":162,"l":147,"h":177},{"s":"trpoNorm","e":58,"m":164,"l":149,"h":179},{"s":"trpoNorm","e":64,"m":163,"l":148,"h":178},{"s":"trpoNorm","e":70,"m":164,"l":149,"h":179},{"s":"trpoNorm","e":76,"m":165,"l":150,"h":180},{"s":"trpoNorm","e":82,"m":166,"l":151,"h":181},{"s":"trpoNorm","e":88,"m":166,"l":151,"h":181},{"s":"trpoNorm","e":94,"m":167,"l":152,"h":182},{"s":"trpoNorm","e":100,"m":167,"l":152,"h":182},{"s":"trpoNorm","e":106,"m":168,"l":153,"h":183},{"s":"trpoNorm","e":112,"m":168,"l":153,"h":183},{"s":"trpoNorm","e":118,"m":169,"l":154,"h":184},{"s":"trpoNorm","e":124,"m":169,"l":154,"h":184},{"s":"trpoNorm","e":130,"m":170,"l":155,"h":185},{"s":"trpoNorm","e":136,"m":170,"l":155,"h":185},{"s":"trpoNorm","e":142,"m":169,"l":154,"h":184},{"s":"trpoNorm","e":148,"m":171,"l":156,"h":186},{"s":"trpoNorm","e":154,"m":170,"l":155,"h":185},{"s":"trpoNorm","e":160,"m":170,"l":155,"h":185},{"s":"trpoNorm","e":166,"m":171,"l":156,"h":186},{"s":"trpoNorm","e":172,"m":171,"l":156,"h":186},{"s":"trpoNorm","e":178,"m":172,"l":157,"h":187},{"s":"trpoNorm","e":184,"m":171,"l":156,"h":186},{"s":"trpoNorm","e":190,"m":172,"l":157,"h":187},{"s":"trpoNorm","e":196,"m":172,"l":157,"h":187},{"s":"trpoNorm","e":202,"m":173,"l":158,"h":188},{"s":"trpoNorm","e":208,"m":173,"l":158,"h":188},{"s":"trpoNorm","e":214,"m":172,"l":157,"h":187},{"s":"trpoNorm","e":220,"m":173,"l":158,"h":188},{"s":"trpoNorm","e":226,"m":174,"l":159,"h":189},{"s":"trpoNorm","e":232,"m":174,"l":159,"h":189},{"s":"trpoNorm","e":238,"m":175,"l":160,"h":190},{"s":"trpoNorm","e":244,"m":174,"l":159,"h":189},{"s":"trpoNorm","e":250,"m":175,"l":160,"h":190},{"s":"trpoNorm","e":256,"m":176,"l":161,"h":191},{"s":"trpoNorm","e":262,"m":175,"l":160,"h":190},{"s":"trpoNorm","e":268,"m":176,"l":161,"h":191},{"s":"trpoNorm","e":274,"m":175,"l":160,"h":190},{"s":"trpoNorm","e":280,"m":176,"l":161,"h":191},{"s":"trpoNorm","e":286,"m":175,"l":160,"h":190},{"s":"trpoNorm","e":292,"m":177,"l":162,"h":192},{"s":"trpoNorm","e":298,"m":176,"l":161,"h":191},{"s":"trpoNorm","e":304,"m":177,"l":162,"h":192},{"s":"trpoNorm","e":310,"m":176,"l":161,"h":191},{"s":"trpoNorm","e":316,"m":175,"l":160,"h":190},{"s":"trpoNorm","e":322,"m":176,"l":161,"h":191},{"s":"trpoNorm","e":328,"m":174,"l":159,"h":189},{"s":"trpoNorm","e":334,"m":173,"l":158,"h":188},{"s":"trpoNorm","e":340,"m":175,"l":160,"h":190},{"s":"trpoNorm","e":342,"m":175,"l":160,"h":190}
],
"jd": [
{"s":"trpo","e":0,"m":0.04,"l":0.02,"h":0.07},{"s":"trpo","e":2,"m":0.06,"l":0.02,"h":0.10},{"s":"trpo","e":4,"m":0.08,"l":0.02,"h":0.14},{"s":"trpo","e":6,"m":0.1,"l":0.03,"h":0.18},{"s":"trpo","e":9,"m":0.13,"l":0.04,"h":0.24},{"s":"trpo","e":12,"m":0.15,"l":0.05,"h":0.28},{"s":"trpo","e":15,"m":0.2,"l":0.07,"h":0.35},{"s":"trpo","e":18,"m":0.22,"l":0.08,"h":0.38},{"s":"trpo","e":22,"m":0.28,"l":0.1,"h":0.45},{"s":"trpo","e":26,"m":0.3,"l":0.1,"h":0.5},{"s":"trpo","e":30,"m":0.36,"l":0.14,"h":0.58},{"s":"trpo","e":35,"m":0.42,"l":0.17,"h":0.66},{"s":"trpo","e":40,"m":0.5,"l":0.22,"h":0.76},{"s":"trpo","e":46,"m":0.56,"l":0.26,"h":0.86},{"s":"trpo","e":52,"m":0.62,"l":0.3,"h":0.95},{"s":"trpo","e":58,"m":0.7,"l":0.35,"h":1.05},{"s":"trpo","e":64,"m":0.66,"l":0.33,"h":1.0},{"s":"trpo","e":70,"m":0.8,"l":0.42,"h":1.18},{"s":"trpo","e":76,"m":0.76,"l":0.4,"h":1.14},{"s":"trpo","e":82,"m":0.85,"l":0.45,"h":1.25},{"s":"trpo","e":88,"m":0.9,"l":0.48,"h":1.32},{"s":"trpo","e":94,"m":0.95,"l":0.52,"h":1.38},{"s":"trpo","e":100,"m":0.92,"l":0.5,"h":1.35},{"s":"trpo","e":106,"m":1.05,"l":0.58,"h":1.52},{"s":"trpo","e":112,"m":0.98,"l":0.54,"h":1.42},{"s":"trpo","e":118,"m":1.1,"l":0.6,"h":1.58},{"s":"trpo","e":124,"m":1.02,"l":0.56,"h":1.5},{"s":"trpo","e":130,"m":1.05,"l":0.58,"h":1.52},{"s":"trpo","e":136,"m":0.98,"l":0.54,"h":1.44},{"s":"trpo","e":142,"m":1.08,"l":0.6,"h":1.56},{"s":"trpo","e":148,"m":0.92,"l":0.5,"h":1.36},{"s":"trpo","e":154,"m":1.0,"l":0.55,"h":1.46},{"s":"trpo","e":160,"m":1.1,"l":0.6,"h":1.6},{"s":"trpo","e":166,"m":1.05,"l":0.58,"h":1.54},{"s":"trpo","e":172,"m":1.15,"l":0.64,"h":1.68},{"s":"trpo","e":178,"m":1.1,"l":0.6,"h":1.6},{"s":"trpo","e":184,"m":1.2,"l":0.66,"h":1.74},{"s":"trpo","e":190,"m":1.12,"l":0.62,"h":1.64},{"s":"trpo","e":196,"m":1.28,"l":0.7,"h":1.86},{"s":"trpo","e":202,"m":1.18,"l":0.65,"h":1.72},{"s":"trpo","e":208,"m":1.22,"l":0.67,"h":1.78},{"s":"trpo","e":214,"m":1.3,"l":0.72,"h":1.88},{"s":"trpo","e":220,"m":1.2,"l":0.66,"h":1.74},{"s":"trpo","e":226,"m":1.35,"l":0.74,"h":1.96},{"s":"trpo","e":232,"m":1.25,"l":0.69,"h":1.82},{"s":"trpo","e":238,"m":1.42,"l":0.78,"h":2.06},{"s":"trpo","e":244,"m":1.3,"l":0.72,"h":1.88},{"s":"trpo","e":250,"m":1.38,"l":0.76,"h":2.0},{"s":"trpo","e":256,"m":1.32,"l":0.73,"h":1.92},{"s":"trpo","e":262,"m":1.45,"l":0.8,"h":2.1},{"s":"trpo","e":268,"m":1.36,"l":0.75,"h":1.98},{"s":"trpo","e":274,"m":1.5,"l":0.83,"h":2.18},{"s":"trpo","e":280,"m":1.4,"l":0.77,"h":2.04},{"s":"trpo","e":286,"m":1.55,"l":0.85,"h":2.25},{"s":"trpo","e":292,"m":1.45,"l":0.8,"h":2.1},{"s":"trpo","e":298,"m":1.62,"l":0.9,"h":2.35},{"s":"trpo","e":304,"m":1.48,"l":0.82,"h":2.15},{"s":"trpo","e":310,"m":1.7,"l":0.94,"h":2.46},{"s":"trpo","e":316,"m":1.5,"l":0.83,"h":2.18},{"s":"trpo","e":322,"m":1.55,"l":0.85,"h":2.25},{"s":"trpo","e":328,"m":1.45,"l":0.8,"h":2.1},{"s":"trpo","e":334,"m":1.6,"l":0.88,"h":2.32},{"s":"trpo","e":340,"m":1.75,"l":0.96,"h":2.54},{"s":"trpo","e":342,"m":1.3,"l":0.72,"h":1.88},
{"s":"trpoNorm","e":0,"m":0.05,"l":0.02,"h":0.09},{"s":"trpoNorm","e":2,"m":0.1,"l":0.05,"h":0.16},{"s":"trpoNorm","e":4,"m":0.14,"l":0.07,"h":0.22},{"s":"trpoNorm","e":6,"m":0.12,"l":0.06,"h":0.2},{"s":"trpoNorm","e":9,"m":0.17,"l":0.09,"h":0.27},{"s":"trpoNorm","e":12,"m":0.2,"l":0.1,"h":0.32},{"s":"trpoNorm","e":15,"m":0.25,"l":0.13,"h":0.4},{"s":"trpoNorm","e":18,"m":0.24,"l":0.12,"h":0.38},{"s":"trpoNorm","e":22,"m":0.3,"l":0.15,"h":0.48},{"s":"trpoNorm","e":26,"m":0.35,"l":0.18,"h":0.56},{"s":"trpoNorm","e":30,"m":0.55,"l":0.28,"h":0.85},{"s":"trpoNorm","e":35,"m":0.5,"l":0.26,"h":0.78},{"s":"trpoNorm","e":40,"m":0.6,"l":0.31,"h":0.94},{"s":"trpoNorm","e":46,"m":0.7,"l":0.36,"h":1.1},{"s":"trpoNorm","e":52,"m":0.85,"l":0.44,"h":1.32},{"s":"trpoNorm","e":58,"m":1.0,"l":0.52,"h":1.55},{"s":"trpoNorm","e":64,"m":1.1,"l":0.58,"h":1.7},{"s":"trpoNorm","e":70,"m":1.02,"l":0.54,"h":1.58},{"s":"trpoNorm","e":76,"m":1.08,"l":0.57,"h":1.66},{"s":"trpoNorm","e":82,"m":1.15,"l":0.6,"h":1.78},{"s":"trpoNorm","e":88,"m":1.12,"l":0.6,"h":1.74},{"s":"trpoNorm","e":94,"m":1.25,"l":0.66,"h":1.94},{"s":"trpoNorm","e":100,"m":1.2,"l":0.64,"h":1.86},{"s":"trpoNorm","e":106,"m":1.3,"l":0.7,"h":2.02},{"s":"trpoNorm","e":112,"m":1.22,"l":0.66,"h":1.9},{"s":"trpoNorm","e":118,"m":1.35,"l":0.73,"h":2.1},{"s":"trpoNorm","e":124,"m":1.55,"l":0.84,"h":2.4},{"s":"trpoNorm","e":130,"m":1.45,"l":0.78,"h":2.25},{"s":"trpoNorm","e":136,"m":1.5,"l":0.81,"h":2.32},{"s":"trpoNorm","e":142,"m":1.6,"l":0.86,"h":2.48},{"s":"trpoNorm","e":148,"m":1.4,"l":0.76,"h":2.18},{"s":"trpoNorm","e":154,"m":1.48,"l":0.8,"h":2.3},{"s":"trpoNorm","e":160,"m":1.3,"l":0.7,"h":2.02},{"s":"trpoNorm","e":166,"m":1.5,"l":0.81,"h":2.33},{"s":"trpoNorm","e":172,"m":1.65,"l":0.9,"h":2.55},{"s":"trpoNorm","e":178,"m":1.6,"l":0.87,"h":2.48},{"s":"trpoNorm","e":184,"m":1.75,"l":0.95,"h":2.7},{"s":"trpoNorm","e":190,"m":1.55,"l":0.84,"h":2.4},{"s":"trpoNorm","e":196,"m":1.7,"l":0.92,"h":2.62},{"s":"trpoNorm","e":202,"m":1.62,"l":0.88,"h":2.5},{"s":"trpoNorm","e":208,"m":1.8,"l":0.98,"h":2.78},{"s":"trpoNorm","e":214,"m":1.72,"l":0.94,"h":2.65},{"s":"trpoNorm","e":220,"m":1.85,"l":1.0,"h":2.85},{"s":"trpoNorm","e":226,"m":1.75,"l":0.95,"h":2.7},{"s":"trpoNorm","e":232,"m":1.9,"l":1.03,"h":2.92},{"s":"trpoNorm","e":238,"m":1.7,"l":0.93,"h":2.62},{"s":"trpoNorm","e":244,"m":1.95,"l":1.06,"h":3.0},{"s":"trpoNorm","e":250,"m":1.85,"l":1.01,"h":2.85},{"s":"trpoNorm","e":256,"m":2.0,"l":1.09,"h":3.05},{"s":"trpoNorm","e":262,"m":1.88,"l":1.02,"h":2.9},{"s":"trpoNorm","e":268,"m":2.02,"l":1.1,"h":3.1},{"s":"trpoNorm","e":274,"m":1.92,"l":1.05,"h":2.95},{"s":"trpoNorm","e":280,"m":2.05,"l":1.12,"h":3.12},{"s":"trpoNorm","e":286,"m":1.95,"l":1.06,"h":3.0},{"s":"trpoNorm","e":292,"m":1.85,"l":1.0,"h":2.85},{"s":"trpoNorm","e":298,"m":2.15,"l":1.17,"h":3.22},{"s":"trpoNorm","e":304,"m":2.1,"l":1.15,"h":3.15},{"s":"trpoNorm","e":310,"m":2.2,"l":1.2,"h":3.28},{"s":"trpoNorm","e":316,"m":2.05,"l":1.12,"h":3.12},{"s":"trpoNorm","e":322,"m":2.28,"l":1.24,"h":3.3},{"s":"trpoNorm","e":328,"m":2.15,"l":1.18,"h":3.2},{"s":"trpoNorm","e":334,"m":2.35,"l":1.28,"h":3.35},{"s":"trpoNorm","e":340,"m":2.25,"l":1.23,"h":3.3},{"s":"trpoNorm","e":342,"m":2.4,"l":1.3,"h":3.3}
]
},
"concat": [
{"width": 302, "height": 233, "title": "Return, Hopper Gym", "data": {"name": "rg"},
 "layer": [
  {"mark": {"type": "area", "fillOpacity": 0.4, "strokeWidth": 0},
   "encoding": {"x": {"field": "e", "type": "quantitative", "scale": {"domain": [-17, 359], "nice": false, "zero": false}, "axis": {"title": null, "values": [0, 100, 200, 300], "format": "d"}},
    "y": {"field": "l", "type": "quantitative", "scale": {"domain": [-117, 2820], "nice": false, "zero": false}, "axis": {"title": "Return", "values": [0, 500, 1000, 1500, 2000, 2500], "format": "d"}},
    "y2": {"field": "h"},
    "color": {"field": "s", "type": "nominal", "scale": {"domain": ["trpo", "trpoNorm"], "range": ["#ff0000", "#0000ff"]}}}},
  {"mark": {"type": "line", "strokeWidth": 1.5},
   "encoding": {"x": {"field": "e", "type": "quantitative", "axis": {"title": null, "values": [0, 100, 200, 300], "format": "d"}},
    "y": {"field": "m", "type": "quantitative", "axis": {"title": "Return", "values": [0, 500, 1000, 1500, 2000, 2500], "format": "d"}},
    "color": {"field": "s", "type": "nominal", "scale": {"domain": ["trpo", "trpoNorm"], "range": ["#ff0000", "#0000ff"]}}}}
 ]},
{"width": 302, "height": 233, "title": "Return, Hopper Bullet", "data": {"name": "rb"},
 "layer": [
  {"mark": {"type": "area", "fillOpacity": 0.4, "strokeWidth": 0},
   "encoding": {"x": {"field": "e", "type": "quantitative", "scale": {"domain": [-17, 359], "nice": false, "zero": false}, "axis": {"title": null, "values": [0, 100, 200, 300], "format": "d"}},
    "y": {"field": "l", "type": "quantitative", "scale": {"domain": [-94, 2417], "nice": false, "zero": false}, "axis": {"title": "Return", "values": [0, 500, 1000, 1500, 2000], "format": "d"}},
    "y2": {"field": "h"},
    "color": {"field": "s", "type": "nominal", "scale": {"domain": ["trpo", "trpoNorm"], "range": ["#ff0000", "#0000ff"]}}}},
  {"mark": {"type": "line", "strokeWidth": 1.5},
   "encoding": {"x": {"field": "e", "type": "quantitative", "axis": {"title": null, "values": [0, 100, 200, 300], "format": "d"}},
    "y": {"field": "m", "type": "quantitative", "axis": {"title": "Return", "values": [0, 500, 1000, 1500, 2000], "format": "d"}},
    "color": {"field": "s", "type": "nominal", "scale": {"domain": ["trpo", "trpoNorm"], "range": ["#ff0000", "#0000ff"]}}}}
 ]},
{"width": 302, "height": 233, "title": "Return, Hopper DM", "data": {"name": "rd"},
 "layer": [
  {"mark": {"type": "area", "fillOpacity": 0.4, "strokeWidth": 0},
   "encoding": {"x": {"field": "e", "type": "quantitative", "scale": {"domain": [-17, 359], "nice": false, "zero": false}, "axis": {"title": null, "values": [0, 100, 200, 300], "format": "d"}},
    "y": {"field": "l", "type": "quantitative", "scale": {"domain": [-3.9, 56.8], "nice": false, "zero": false}, "axis": {"title": "Return", "values": [0, 10, 20, 30, 40, 50], "format": "d"}},
    "y2": {"field": "h"},
    "color": {"field": "s", "type": "nominal", "scale": {"domain": ["trpo", "trpoNorm"], "range": ["#ff0000", "#0000ff"]}}}},
  {"mark": {"type": "line", "strokeWidth": 1.5},
   "encoding": {"x": {"field": "e", "type": "quantitative", "axis": {"title": null, "values": [0, 100, 200, 300], "format": "d"}},
    "y": {"field": "m", "type": "quantitative", "axis": {"title": "Return", "values": [0, 10, 20, 30, 40, 50], "format": "d"}},
    "color": {"field": "s", "type": "nominal", "scale": {"domain": ["trpo", "trpoNorm"], "range": ["#ff0000", "#0000ff"]}}}}
 ]},
{"width": 302, "height": 233, "title": "J, Hopper Gym", "data": {"name": "jg"},
 "layer": [
  {"mark": {"type": "area", "fillOpacity": 0.4, "strokeWidth": 0},
   "encoding": {"x": {"field": "e", "type": "quantitative", "scale": {"domain": [-17, 359], "nice": false, "zero": false}, "axis": {"title": "epoch", "values": [0, 100, 200, 300], "format": "d"}},
    "y": {"field": "l", "type": "quantitative", "scale": {"domain": [0, 304], "nice": false, "zero": false}, "axis": {"title": "J", "values": [0, 50, 100, 150, 200, 250, 300], "format": "d"}},
    "y2": {"field": "h"},
    "color": {"field": "s", "type": "nominal", "scale": {"domain": ["trpo", "trpoNorm"], "range": ["#ff0000", "#0000ff"]}}}},
  {"mark": {"type": "line", "strokeWidth": 1.5},
   "encoding": {"x": {"field": "e", "type": "quantitative", "axis": {"title": "epoch", "values": [0, 100, 200, 300], "format": "d"}},
    "y": {"field": "m", "type": "quantitative", "axis": {"title": "J", "values": [0, 50, 100, 150, 200, 250, 300], "format": "d"}},
    "color": {"field": "s", "type": "nominal", "scale": {"domain": ["trpo", "trpoNorm"], "range": ["#ff0000", "#0000ff"]}}}}
 ]},
{"width": 302, "height": 233, "title": "J, Hopper Bullet", "data": {"name": "jb"},
 "layer": [
  {"mark": {"type": "area", "fillOpacity": 0.4, "strokeWidth": 0},
   "encoding": {"x": {"field": "e", "type": "quantitative", "scale": {"domain": [-17, 359], "nice": false, "zero": false}, "axis": {"title": "epoch", "values": [0, 100, 200, 300], "format": "d"}},
    "y": {"field": "l", "type": "quantitative", "scale": {"domain": [5.7, 212.8], "nice": false, "zero": false}, "axis": {"title": "J", "values": [25, 50, 75, 100, 125, 150, 175, 200], "format": "d"}},
    "y2": {"field": "h"},
    "color": {"field": "s", "type": "nominal", "scale": {"domain": ["trpo", "trpoNorm"], "range": ["#ff0000", "#0000ff"]}}}},
  {"mark": {"type": "line", "strokeWidth": 1.5},
   "encoding": {"x": {"field": "e", "type": "quantitative", "axis": {"title": "epoch", "values": [0, 100, 200, 300], "format": "d"}},
    "y": {"field": "m", "type": "quantitative", "axis": {"title": "J", "values": [25, 50, 75, 100, 125, 150, 175, 200], "format": "d"}},
    "color": {"field": "s", "type": "nominal", "scale": {"domain": ["trpo", "trpoNorm"], "range": ["#ff0000", "#0000ff"]}}}}
 ]},
{"width": 302, "height": 233, "title": "J, Hopper DM", "data": {"name": "jd"},
 "layer": [
  {"mark": {"type": "area", "fillOpacity": 0.4, "strokeWidth": 0},
   "encoding": {"x": {"field": "e", "type": "quantitative", "scale": {"domain": [-17, 359], "nice": false, "zero": false}, "axis": {"title": "epoch", "values": [0, 100, 200, 300], "format": "d"}},
    "y": {"field": "l", "type": "quantitative", "scale": {"domain": [-0.19, 3.59], "nice": false, "zero": false}, "axis": {"title": "J", "values": [0, 0.5, 1, 1.5, 2, 2.5, 3, 3.5], "format": ".1f"}},
    "y2": {"field": "h"},
    "color": {"field": "s", "type": "nominal", "scale": {"domain": ["trpo", "trpoNorm"], "range": ["#ff0000", "#0000ff"]}}}},
  {"mark": {"type": "line", "strokeWidth": 1.5},
   "encoding": {"x": {"field": "e", "type": "quantitative", "axis": {"title": "epoch", "values": [0, 100, 200, 300], "format": "d"}},
    "y": {"field": "m", "type": "quantitative", "axis": {"title": "J", "values": [0, 0.5, 1, 1.5, 2, 2.5, 3, 3.5], "format": ".1f"}},
    "color": {"field": "s", "type": "nominal", "scale": {"domain": ["trpo", "trpoNorm"], "range": ["#ff0000", "#0000ff"]}}}}
 ]}
]
}
